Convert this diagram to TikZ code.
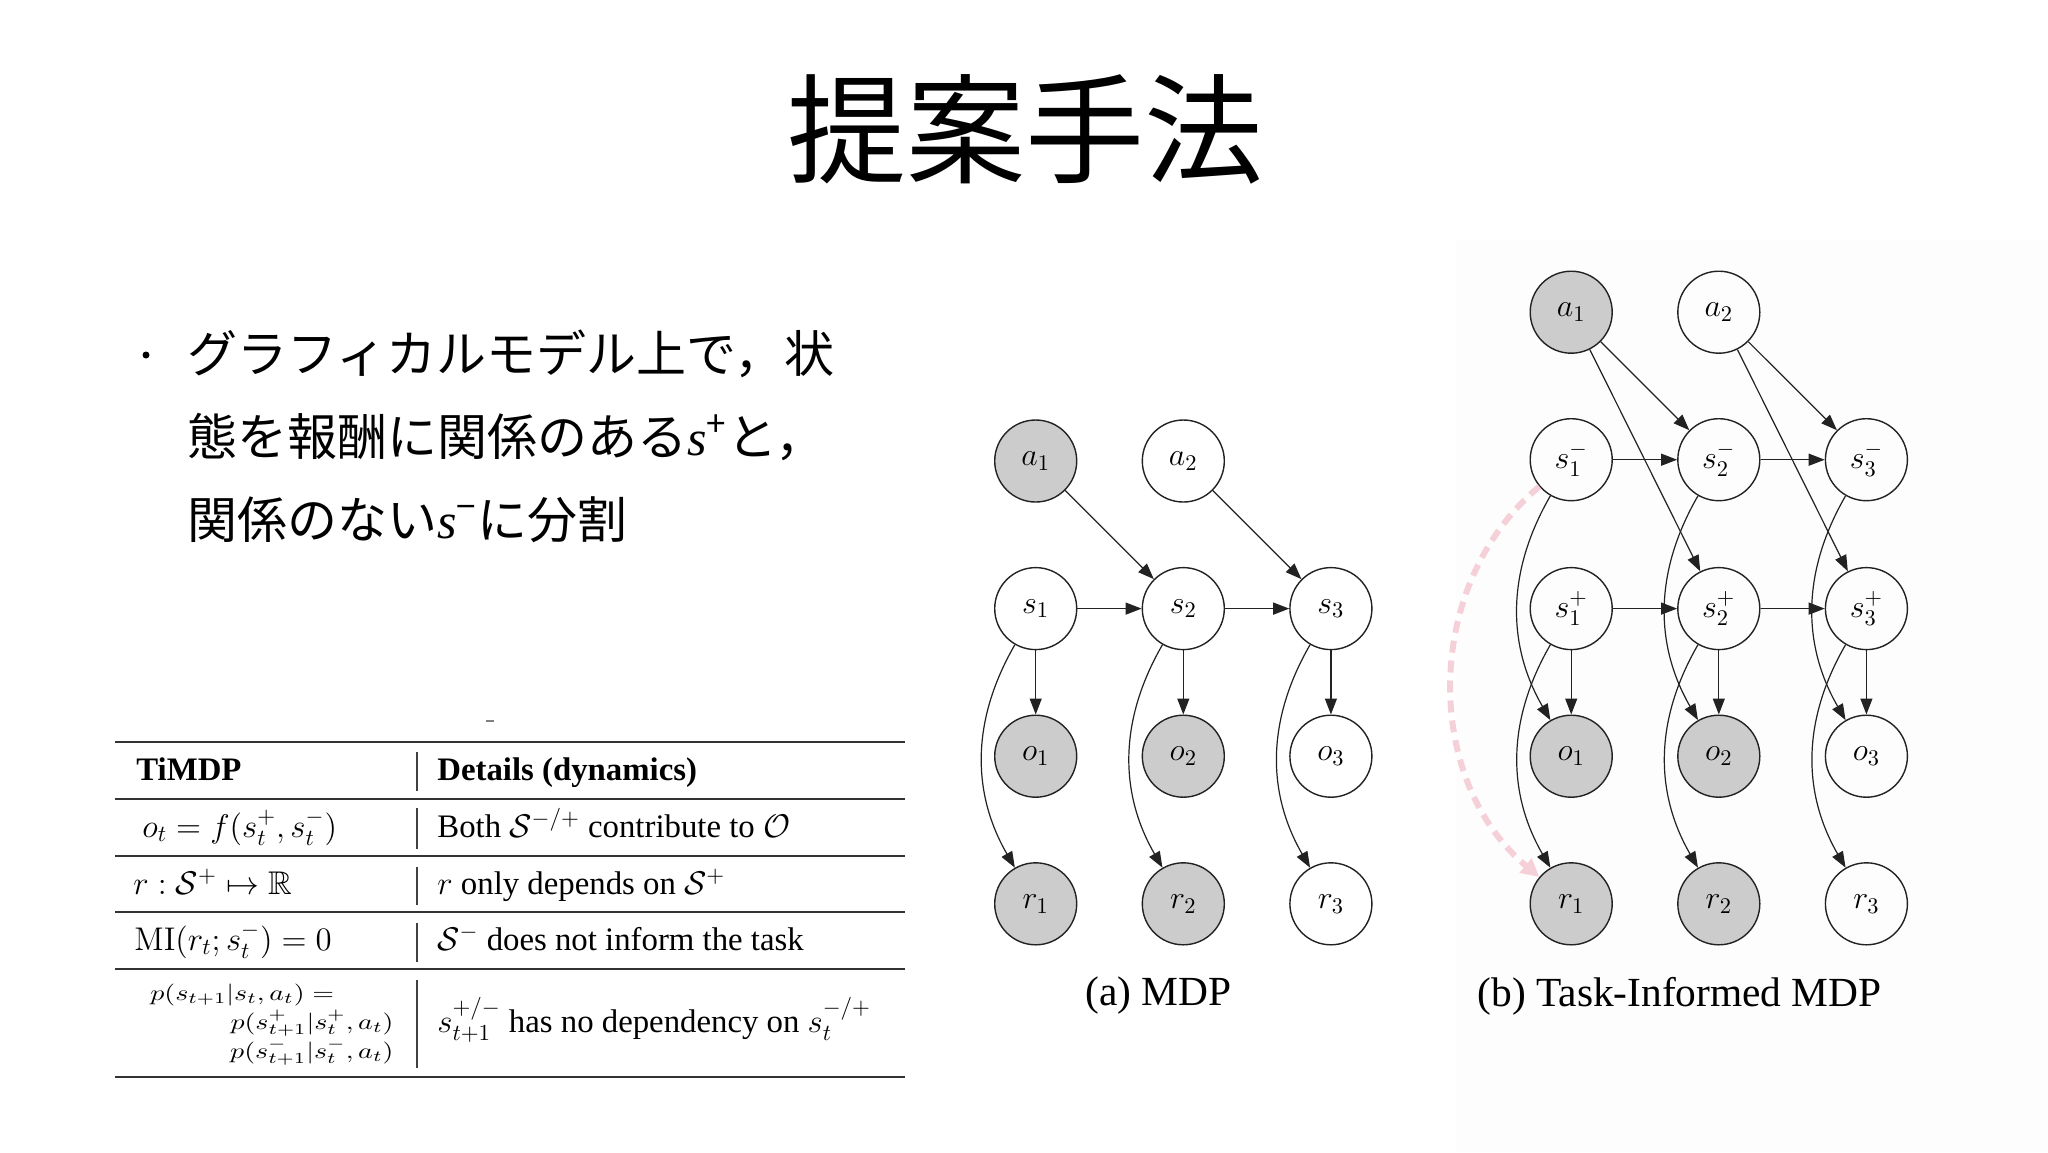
\RequirePackage{fix-cm}
\documentclass[tikz,border=0pt]{standalone}
\usepackage{amsmath,amssymb}
\usepackage[no-math]{fontspec}
\setmainfont{Liberation Serif}
\newfontfamily\jp{Noto Sans CJK JP}
\usetikzlibrary{arrows.meta}
\definecolor{obsgray}{RGB}{204,204,204}
\definecolor{edgec}{RGB}{34,34,34}
\definecolor{pinkc}{RGB}{246,208,216}
\definecolor{bgfaint}{RGB}{253,253,253}
\begin{document}
\begin{tikzpicture}[x=0.5pt,y=-0.5pt,
 rv/.style={circle,draw=edgec,line width=0.7pt,minimum size=41pt,inner sep=0pt,font=\fontsize{16}{16}\selectfont},
 rvobs/.style={rv,fill=obsgray},
 arr/.style={draw=edgec,line width=0.6pt,-{Triangle[length=8pt,width=6pt]}},
 pinkarr/.style={draw=pinkc,line width=3pt,dash pattern=on 6pt off 4pt,-{Triangle[length=9pt,width=9pt]}},
 hrule/.style={draw=black!80,line width=1pt},
 vbar/.style={draw=black!75,line width=0.7pt},
 tabtxt/.style={anchor=base west,inner sep=0pt,font=\fontsize{16.4}{19}\selectfont},
 smallf/.style={inner sep=0pt,font=\fontsize{11}{12}\selectfont},
 capt/.style={inner sep=0pt,font=\fontsize{20.7}{24}\selectfont},
 jpline/.style={anchor=base west,inner sep=0pt,font=\jp\fontsize{25}{30}\selectfont},
]
\useasboundingbox (0,0) rectangle (2048,1152);
\fill[white] (0,0) rectangle (2048,1152);
\fill[bgfaint] (1456,240) rectangle (2048,1152);

% title
\node[anchor=base,inner sep=0pt,font=\jp\fontsize{59.5}{60}\selectfont] (title) at (1025,174) {提案手法};

% bullet text
\node[circle,fill=black,inner sep=0pt,minimum size=3.5pt] (bul) at (146,355) {};
\node[jpline] (l1) at (187,372) {グラフィカルモデル上で，状};
\node[jpline] (l2) at (187,455) {態を報酬に関係のある{\rmfamily\itshape s}\textsuperscript{+}と，};
\node[jpline] (l3) at (187,538) {関係のない{\rmfamily\itshape s}\textsuperscript{−}に分割};

% table
\draw[gray,line width=1pt] (486,721) -- (494,721);
\draw[hrule] (115,742) -- (905,742);
\draw[hrule] (115,798.5) -- (905,798.5);
\draw[hrule] (115,855.5) -- (905,855.5);
\draw[hrule] (115,912) -- (905,912);
\draw[hrule] (115,969) -- (905,969);
\draw[hrule] (115,1076.5) -- (905,1076.5);
\draw[vbar] (417,752) -- (417,791);
\draw[vbar] (417,808) -- (417,849);
\draw[vbar] (417,867) -- (417,905);
\draw[vbar] (417,923) -- (417,962);
\draw[vbar] (417,980) -- (417,1068);
\node[tabtxt] (h1) at (136,780) {\bfseries TiMDP};
\node[tabtxt] (h2) at (437,780) {\bfseries Details (dynamics)};
\node[tabtxt] (c11) at (142,837) {$o_t = f(s_t^+, s_t^-)$};
\node[tabtxt] (c12) at (437,837) {Both $\mathcal{S}^{-/+}$ contribute to $\mathcal{O}$};
\node[tabtxt] (c21) at (133,894) {$r:\mathcal{S}^+\mapsto\mathbb{R}$};
\node[tabtxt] (c22) at (437,894) {$r$ only depends on $\mathcal{S}^+$};
\node[tabtxt] (c31) at (134,950) {$\mathrm{MI}(r_t; s_t^-) = 0$};
\node[tabtxt] (c32) at (437,950) {$\mathcal{S}^-$ does not inform the task};
\node[tabtxt] (c42) at (437,1032) {$s_{t+1}^{+/-}$ has no dependency on $s_t^{-/+}$};
\node[smallf,anchor=base west] (c41a) at (150,1000) {\scalebox{1.27}[1]{$p(s_{t+1}|s_t,a_t) =$}};
\node[smallf,anchor=base east] (c41b) at (394,1029) {\scalebox{1.27}[1]{$p(s^+_{t+1}|s^+_t,a_t)$}};
\node[smallf,anchor=base east] (c41c) at (394,1058) {\scalebox{1.27}[1]{$p(s^-_{t+1}|s^-_t,a_t)$}};

% graph (a)
\node[rvobs] (Aa1) at (1035.7,461) {$a_1$};
\node[rv] (Aa2) at (1183.3,461) {$a_2$};
\node[rv] (As1) at (1035.7,608.6) {$s_1$};
\node[rv] (As2) at (1183.3,608.6) {$s_2$};
\node[rv] (As3) at (1330.9,608.6) {$s_3$};
\node[rvobs] (Ao1) at (1035.7,756.2) {$o_1$};
\node[rvobs] (Ao2) at (1183.3,756.2) {$o_2$};
\node[rv] (Ao3) at (1330.9,756.2) {$o_3$};
\node[rvobs] (Ar1) at (1035.7,903.8) {$r_1$};
\node[rvobs] (Ar2) at (1183.3,903.8) {$r_2$};
\node[rv] (Ar3) at (1330.9,903.8) {$r_3$};
\draw[arr] (Aa1) -- (As2);
\draw[arr] (Aa2) -- (As3);
\draw[arr] (As1) -- (As2);
\draw[arr] (As2) -- (As3);
\foreach \i in {1,2,3}{
  \draw[arr] (As\i) -- (Ao\i);
  \draw[arr] (As\i) to[out=240,in=120] (Ar\i);
}
\node[capt] (capA) at (1158.5,996) {(a) MDP};

% graph (b)
\node[rvobs] (Ba1) at (1571.2,312.2) {$a_1$};
\node[rv] (Ba2) at (1718.8,312.2) {$a_2$};
\node[rv] (Bsm1) at (1571.2,459.7) {$s_1^-$};
\node[rv] (Bsm2) at (1718.8,459.7) {$s_2^-$};
\node[rv] (Bsm3) at (1866.4,459.7) {$s_3^-$};
\node[rv] (Bsp1) at (1571.2,608.6) {$s_1^+$};
\node[rv] (Bsp2) at (1718.8,608.6) {$s_2^+$};
\node[rv] (Bsp3) at (1866.4,608.6) {$s_3^+$};
\node[rvobs] (Bo1) at (1571.2,756.2) {$o_1$};
\node[rvobs] (Bo2) at (1718.8,756.2) {$o_2$};
\node[rv] (Bo3) at (1866.4,756.2) {$o_3$};
\node[rvobs] (Br1) at (1571.2,903.8) {$r_1$};
\node[rvobs] (Br2) at (1718.8,903.8) {$r_2$};
\node[rv] (Br3) at (1866.4,903.8) {$r_3$};
\draw[arr] (Ba1) -- (Bsm2);
\draw[arr] (Ba1) -- (Bsp2);
\draw[arr] (Ba2) -- (Bsm3);
\draw[arr] (Ba2) -- (Bsp3);
\draw[arr] (Bsm1) -- (Bsm2);
\draw[arr] (Bsm2) -- (Bsm3);
\draw[arr] (Bsp1) -- (Bsp2);
\draw[arr] (Bsp2) -- (Bsp3);
\foreach \i in {1,2,3}{
  \draw[arr] (Bsm\i) to[out=240,in=120] (Bo\i);
  \draw[arr] (Bsp\i) -- (Bo\i);
  \draw[arr] (Bsp\i) to[out=240,in=120] (Br\i);
}
\draw[pinkarr] (Bsm1.220) to[out=220,in=140] (Br1.140);
\node[capt] (capB) at (1679.6,996) {(b) Task-Informed MDP};
\end{tikzpicture}
\end{document}
